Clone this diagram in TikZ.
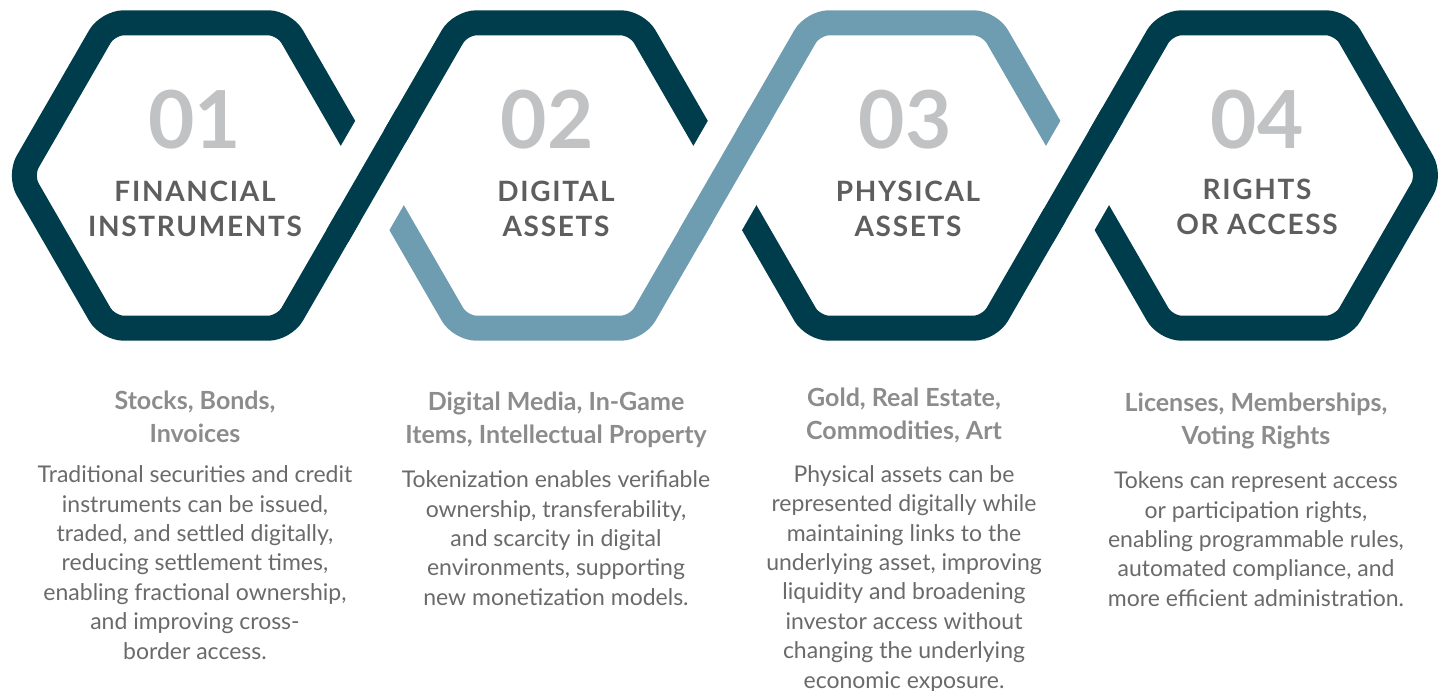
\documentclass[tikz,border=0pt]{standalone}
\usepackage{fontspec}
\setmainfont{Lato}
\newfontfamily\titlefont[LetterSpace=6]{Lato}
\usetikzlibrary{positioning,calc}
\definecolor{darkteal}{HTML}{003D4C}
\definecolor{paleteal}{HTML}{6E9CB0}
\definecolor{numgrey}{HTML}{C0C2C4}
\definecolor{titlegrey}{HTML}{5E5E5E}
\definecolor{subgrey}{HTML}{8C8C8C}
\definecolor{bodygrey}{HTML}{6A6A6A}

\begin{document}
\begin{tikzpicture}[x=0.5pt, y=-0.5pt,
    ribbon/.style={line width=12.5pt, rounded corners=8pt},
    gapband/.style={white, line width=42pt},
    num/.style={text=numgrey, font=\fontsize{40}{40}\selectfont\bfseries, inner sep=0pt},
    ttl/.style={text=titlegrey, font=\fontsize{14}{17.5}\selectfont\titlefont\bfseries, align=center, inner sep=0pt},
    sub/.style={text=subgrey, font=\fontsize{12.5}{16.5}\selectfont\bfseries, align=center, inner sep=0pt},
    body/.style={text=bodygrey, font=\fontsize{11.5}{14.7}\selectfont, align=center, inner sep=0pt}]
    \useasboundingbox (0,0) rectangle (1448,691);

    % junctions where two hexagons meet
    \coordinate (j1) at (372.3,175.5);
    \coordinate (j2) at (724.9,175.5);
    \coordinate (j3) at (1077.5,175.5);

    % the three ribbons
    \draw[ribbon, darkteal] (j1) -- (284.15,22.8) -- (107.85,22.8) -- (19.7,175.5) -- (107.85,328.2)
        -- (284.15,328.2) -- (460.45,22.8) -- (636.75,22.8) -- (j2);
    \draw[ribbon, paleteal] (j1) -- (460.45,328.2) -- (636.75,328.2) -- (813.05,22.8) -- (989.35,22.8) -- (j3);
    \draw[ribbon, darkteal] (j2) -- (813.05,328.2) -- (989.35,328.2) -- (1165.65,22.8) -- (1341.95,22.8)
        -- (1430.1,175.5) -- (1341.95,328.2) -- (1165.65,328.2) -- (j3);

    % crossings: cut the lower strand, lay the upper one back on top
    \draw[gapband] ($(j1)+(-22.5,39)$) -- ($(j1)+(22.5,-39)$);
    \draw[gapband] ($(j2)+(-22.5,39)$) -- ($(j2)+(22.5,-39)$);
    \draw[gapband] ($(j3)+(-22.5,39)$) -- ($(j3)+(22.5,-39)$);
    \draw[line width=12.5pt, darkteal] ($(j1)+(-35,60.6)$) -- ($(j1)+(35,-60.6)$);
    \draw[line width=12.5pt, paleteal] ($(j2)+(-35,60.6)$) -- ($(j2)+(35,-60.6)$);
    \draw[line width=12.5pt, darkteal] ($(j3)+(-35,60.6)$) -- ($(j3)+(35,-60.6)$);

    % 01
    \node (num1) [num] at (195,120) {01};
    \node (ttl1) [ttl] at (195,209) {FINANCIAL\\INSTRUMENTS};
    \node (sub1) [sub] at (195,417) {Stocks, Bonds,\\Invoices};
    \node (body1) [body, below = 11pt of sub1] {Traditional securities and credit\\instruments can be issued,\\traded, and settled digitally,\\reducing settlement times,\\enabling fractional ownership,\\and improving cross-\\border access.};

    % 02
    \node (num2) [num] at (547,120) {02};
    \node (ttl2) [ttl] at (556,209) {DIGITAL\\ASSETS};
    \node (sub2) [sub] at (556,420) {Digital Media, In-Game\\Items, Intellectual Property};
    \node (body2) [body, below = 11pt of sub2] {Tokenization enables verifiable\\ownership, transferability,\\and scarcity in digital\\environments, supporting\\new monetization models.};

    % 03
    \node (num3) [num] at (905,120) {03};
    \node (ttl3) [ttl] at (908,209) {PHYSICAL\\ASSETS};
    \node (sub3) [sub] at (904,415) {Gold, Real Estate,\\Commodities, Art};
    \node (body3) [body, below = 11pt of sub3] {Physical assets can be\\represented digitally while\\maintaining links to the\\underlying asset, improving\\liquidity and broadening\\investor access without\\changing the underlying\\economic exposure.};

    % 04
    \node (num4) [num] at (1257,120) {04};
    \node (ttl4) [ttl] at (1257,207) {RIGHTS\\OR ACCESS};
    \node (sub4) [sub] at (1256,421) {Licenses, Memberships,\\Voting Rights};
    \node (body4) [body, below = 11pt of sub4] {Tokens can represent access\\or participation rights,\\enabling programmable rules,\\automated compliance, and\\more efficient administration.};
\end{tikzpicture}
\end{document}
